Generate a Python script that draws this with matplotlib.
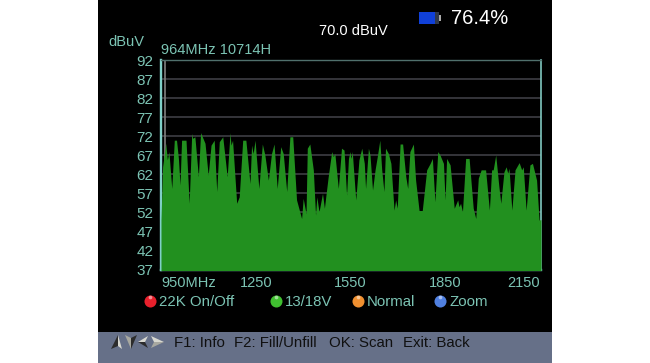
import matplotlib
matplotlib.use('Agg')
import matplotlib.pyplot as plt
from matplotlib.patches import Rectangle, Polygon

plt.rcParams['font.family'] = ['Liberation Sans', 'DejaVu Sans']

freq = [950, 955, 965, 970, 975, 984, 992, 999, 1005, 1010, 1015, 1029, 1039, 1047, 1050, 1057, 1068, 1075, 1089, 1099,
        1108, 1118, 1126, 1134, 1145, 1159, 1168, 1171, 1176, 1189, 1197, 1208, 1218, 1231, 1236, 1241, 1247, 1259, 1270, 1278,
        1289, 1299, 1307, 1317, 1328, 1336, 1347, 1357, 1366, 1378, 1394, 1399, 1408, 1412, 1420, 1431, 1438, 1442, 1449, 1460,
        1466, 1471, 1478, 1489, 1494, 1499, 1510, 1520, 1528, 1531, 1536, 1542, 1547, 1550, 1554, 1565, 1575, 1584, 1592, 1596,
        1605, 1610, 1618, 1626, 1633, 1641, 1647, 1654, 1659, 1668, 1676, 1686, 1691, 1696, 1705, 1713, 1723, 1729, 1736, 1747,
        1754, 1765, 1775, 1789, 1800, 1807, 1815, 1824, 1831, 1842, 1847, 1852, 1863, 1876, 1887, 1891, 1896, 1902, 1912, 1923,
        1936, 1944, 1952, 1961, 1975, 1987, 1994, 1999, 2007, 2017, 2023, 2033, 2040, 2045, 2049, 2058, 2068, 2081, 2089, 2094,
        2103, 2115, 2123, 2136, 2144, 2150]
level = [49.9, 63.9, 70.1, 65.7, 67.9, 58.2, 70.9, 70.9, 66.1, 59.1, 70.9, 70.9, 54.3, 72.7, 71.4, 71.8, 61.3, 72.9, 70.1, 61.7,
         69.6, 70.9, 57.4, 70.5, 71.8, 61.3, 72.9, 69.6, 70.9, 54.3, 56.0, 70.9, 70.9, 59.5, 69.6, 67.4, 70.9, 58.2, 69.9, 67.0,
         60.4, 67.4, 69.9, 58.2, 69.2, 67.4, 57.4, 71.8, 71.8, 55.2, 50.3, 55.6, 51.6, 68.8, 69.9, 63.1, 51.2, 56.0, 52.1, 56.9,
         53.0, 56.5, 61.3, 67.9, 66.6, 67.4, 58.2, 68.8, 68.3, 63.9, 56.5, 66.1, 67.9, 66.1, 67.9, 55.2, 65.7, 68.8, 64.8, 58.2,
         68.8, 67.0, 57.8, 63.1, 66.6, 70.9, 63.1, 57.4, 68.8, 67.4, 64.8, 52.5, 55.2, 53.0, 69.9, 69.9, 61.3, 58.2, 67.9, 69.9,
         60.4, 52.4, 52.4, 63.1, 64.8, 66.1, 54.7, 67.9, 67.0, 64.8, 55.2, 66.1, 64.4, 53.0, 55.2, 53.4, 54.3, 52.1, 66.1, 66.1,
         53.0, 50.3, 60.9, 63.1, 63.1, 52.5, 63.1, 63.1, 67.0, 58.7, 54.3, 62.6, 63.9, 62.2, 63.5, 52.5, 63.1, 65.0, 63.1, 63.9,
         52.5, 64.4, 64.8, 60.4, 49.9, 50.0]

y_ticks = [92, 87, 82, 77, 72, 67, 62, 57, 52, 47, 42, 37]
x_ticks = [1250, 1550, 1850]
x_labels = ['950MHz', '1250', '1550', '1850', '2150']
marker_freq = 964

teal = '#7cc4b4'
W, H = 650, 363

fig = plt.figure(figsize=(6.5, 3.63), dpi=100, facecolor='white')

# screen background + text layer, in picture pixels
bg = fig.add_axes([0, 0, 1, 1], zorder=0)
bg.set_xlim(0, W)
bg.set_ylim(H, 0)
bg.axis('off')
bg.add_patch(Rectangle((98, 0), 454, 332, color='black', lw=0))
bg.add_patch(Rectangle((98, 332), 454, 31, color='#667088', lw=0))

# spectrum
ax = fig.add_axes([161 / W, 1 - 270 / H, 380 / W, 210 / H], zorder=1)
ax.set_facecolor('black')
ax.fill_between(freq, level, 30, color='#22901f', lw=0, zorder=3)
ax.set_xlim(950, 2150)
ax.set_ylim(36.75, 92)
ax.set_yticks(y_ticks)
ax.set_yticklabels([str(v) for v in y_ticks], fontsize=11, color=teal)
ax.set_xticks(x_ticks)
ax.set_xticklabels([])
ax.tick_params(axis='y', length=0, pad=5.5)
ax.tick_params(axis='x', length=3, direction='in', color='#222222', width=1)
ax.grid(axis='y', color='#3e3e44', lw=1.2, zorder=1)
ax.axvline(marker_freq, color='#808080', lw=1.2, zorder=2)
ax.spines['top'].set_color('#50706c')
ax.spines['top'].set_linewidth(1)
ax.spines['right'].set_color('#80c8c0')
ax.spines['right'].set_linewidth(1.2)
for side in ['left', 'bottom']:
    ax.spines[side].set_color('#80d0c8')
    ax.spines[side].set_linewidth(1.7)

for x, lab, ha in zip([161, 256, 350.5, 445, 540], x_labels, ['left', 'center', 'center', 'center', 'right']):
    bg.text(x, 283, lab, color=teal, fontsize=10.5, ha=ha, va='center')

bg.text(108, 42, 'dBuV', color=teal, fontsize=10.5, va='center')
bg.text(161, 50, '964MHz 10714H', color=teal, fontsize=10.5, va='center')
bg.text(319, 31, '70.0 dBuV', color='white', fontsize=10.5, va='center')
bg.text(451, 18, '76.4%', color='white', fontsize=14.5, va='center')

# battery
bg.add_patch(Rectangle((419, 12), 20, 12, color='#1040d8', lw=0))
bg.add_patch(Rectangle((435, 12), 4, 12, color='#303848', lw=0))
bg.add_patch(Rectangle((439, 15), 1.5, 6, color='#aaaaaa', lw=0))

# colour keys
key_x = [150, 276, 358, 440]
key_colors = ['#e8202c', '#40c030', '#f09030', '#5080e0']
key_labels = ['22K On/Off', '13/18V', 'Normal', 'Zoom']
for x, c, lab in zip(key_x, key_colors, key_labels):
    bg.scatter([x], [301], s=75, color=c, lw=0)
    bg.scatter([x], [297], s=7, color='white', alpha=0.5, lw=0)
    bg.text(x + 9, 302, lab, color=teal, fontsize=10.8, va='center')

# footer arrows
light, dark = '#d8d8d0', '#2c2c2c'
bg.add_patch(Polygon([(111, 349), (118, 335), (118, 346)], color=dark, lw=0))
bg.add_patch(Polygon([(118, 335), (122, 349), (118, 346)], color=light, lw=0))
bg.add_patch(Polygon([(125, 335), (131, 349), (131, 338)], color='#a8a8a0', lw=0))
bg.add_patch(Polygon([(137, 335), (131, 349), (131, 338)], color=dark, lw=0))
bg.add_patch(Polygon([(138, 342), (148, 336), (145, 342)], color=light, lw=0))
bg.add_patch(Polygon([(138, 342), (148, 348), (145, 342)], color=dark, lw=0))
bg.add_patch(Polygon([(164, 342), (151, 336), (154, 342)], color=light, lw=0))
bg.add_patch(Polygon([(164, 342), (151, 348), (154, 342)], color='#a8a8a0', lw=0))

foot_x = [174, 234, 329, 403]
foot_labels = ['F1: Info', 'F2: Fill/Unfill', 'OK: Scan', 'Exit: Back']
for x, lab in zip(foot_x, foot_labels):
    bg.text(x, 343, lab, color='#101010', fontsize=10.8, va='center')

fig.savefig('out.png', dpi=100, facecolor='white')
